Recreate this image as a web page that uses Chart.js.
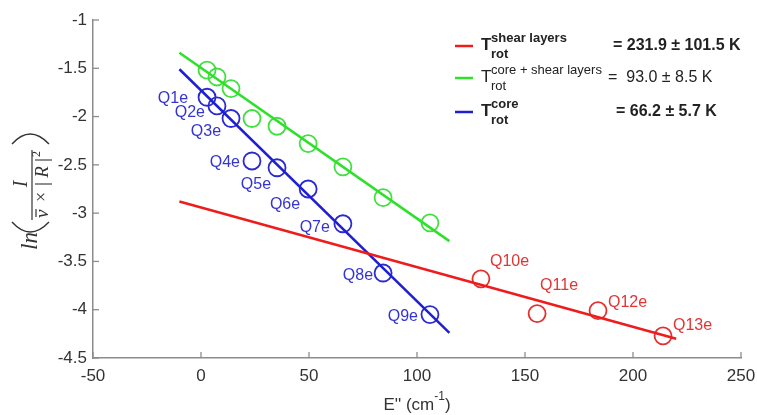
<!DOCTYPE html>
<html>
<head>
<meta charset="utf-8">
<script src="https://cdn.jsdelivr.net/npm/chart.js@4"></script>
<style>
  body { margin: 0; background: #fff; }
  canvas { display: block; }
</style>
</head>
<body>
<canvas id="grafico" width="757" height="415"></canvas>
<script>
// E'' (cm^-1) and ln(I / (nu x |R|^2))
var coreE = [2.8, 7.4, 13.9, 23.6, 35.2, 49.6, 65.7, 84.3, 106.0];
var coreLnI = [-1.80, -1.89, -2.02, -2.46, -2.53, -2.75, -3.11, -3.62, -4.05];
var coreLabels = ['Q1e', 'Q2e', 'Q3e', 'Q4e', 'Q5e', 'Q6e', 'Q7e', 'Q8e', 'Q9e'];

var coreShearE = [2.8, 7.4, 13.9, 23.6, 35.2, 49.6, 65.7, 84.3, 106.0];
var coreShearLnI = [-1.52, -1.59, -1.71, -2.02, -2.10, -2.28, -2.52, -2.84, -3.10];

var shearE = [129.6, 155.6, 183.8, 213.9];
var shearLnI = [-3.68, -4.04, -4.01, -4.27];
var shearLabels = ['Q10e', 'Q11e', 'Q12e', 'Q13e'];

// fitted lines (end points)
var shearFitE = [-10, 220];
var shearFitLnI = [-2.88, -4.30];
var coreShearFitE = [-10, 115];
var coreShearFitLnI = [-1.34, -3.29];
var coreFitE = [-10, 115];
var coreFitLnI = [-1.51, -4.24];

var xTicks = [-50, 0, 50, 100, 150, 200, 250];
var yTicks = [-4.5, -4, -3.5, -3, -2.5, -2, -1.5, -1];

// legend text
var legendSup = ['shear layers', 'core + shear layers', 'core'];
var legendValues = ['= 231.9 \u00b1 101.5 K', '=  93.0 \u00b1 8.5 K', '= 66.2 \u00b1 5.7 K'];

var RED = '#ee1c1c', GREEN = '#2ee02a', BLUE = '#1e1ed2';

function pts(xs, ys) {
  return xs.map(function (x, i) { return { x: x, y: ys[i] }; });
}

// label offsets in pixels from each circle (style only)
var coreLabelOff = [[-19, 1], [-12, 7], [-10, 13], [-12, 2], [-6, 17], [-8, 16], [-13, 4], [-10, 3], [-12, 2]];
var shearLabelOff = [[9, -17], [3, -28], [10, -8], [10, -10]];

var sans = '"Liberation Sans", Arial, Helvetica, sans-serif';
var serif = '"Liberation Serif", "Times New Roman", serif';

var decoraciones = {
  id: 'decoraciones',
  afterDatasetsDraw: function (chart) {
    var ctx = chart.ctx;
    var xs = chart.scales.x, ys = chart.scales.y;
    var area = chart.chartArea;
    ctx.save();

    // inward tick marks
    ctx.strokeStyle = '#8c8c8c';
    ctx.lineWidth = 1.3;
    xTicks.forEach(function (t) {
      var px = xs.getPixelForValue(t);
      ctx.beginPath(); ctx.moveTo(px, area.bottom); ctx.lineTo(px, area.bottom - 6); ctx.stroke();
    });
    yTicks.forEach(function (t) {
      var py = ys.getPixelForValue(t);
      ctx.beginPath(); ctx.moveTo(area.left, py); ctx.lineTo(area.left + 6, py); ctx.stroke();
    });

    // point labels
    ctx.font = '16px ' + sans;
    ctx.textBaseline = 'middle';
    var coreMeta = chart.getDatasetMeta(5);
    ctx.fillStyle = '#3434d4';
    ctx.textAlign = 'right';
    coreLabels.forEach(function (lab, i) {
      var p = coreMeta.data[i];
      ctx.fillText(lab, p.x + coreLabelOff[i][0], p.y + coreLabelOff[i][1]);
    });
    var shearMeta = chart.getDatasetMeta(3);
    ctx.fillStyle = '#e23434';
    ctx.textAlign = 'left';
    shearLabels.forEach(function (lab, i) {
      var p = shearMeta.data[i];
      ctx.fillText(lab, p.x + shearLabelOff[i][0], p.y + shearLabelOff[i][1]);
    });

    // legend
    var rows = [46, 78, 112];
    var cols = [RED, GREEN, BLUE];
    var bold = [true, false, true];
    var valX = [613, 608, 616];
    for (var i = 0; i < 3; i++) {
      var y = rows[i];
      ctx.strokeStyle = cols[i];
      ctx.lineWidth = 2.5;
      ctx.beginPath(); ctx.moveTo(455, y); ctx.lineTo(473, y); ctx.stroke();
      var w = bold[i] ? 'bold ' : '';
      ctx.fillStyle = '#222';
      ctx.textAlign = 'left';
      ctx.textBaseline = 'alphabetic';
      ctx.font = w + '17px ' + sans;
      ctx.fillText('T', 481, y + 4);
      ctx.font = w + '13px ' + sans;
      ctx.fillText(legendSup[i], 491, y - 4);
      ctx.fillText('rot', 491, y + 12);
      ctx.font = w + '16px ' + sans;
      ctx.textBaseline = 'middle';
      ctx.fillText(legendValues[i], valX[i], y);
    }

    // x title: E'' (cm^-1)
    ctx.fillStyle = '#333';
    ctx.textBaseline = 'alphabetic';
    var a = "E'' (cm", b = ')';
    ctx.font = '12px ' + sans;
    var wSup = ctx.measureText('-1').width;
    ctx.font = '17px ' + sans;
    var wa = ctx.measureText(a).width, wb = ctx.measureText(b).width;
    var x0 = (area.left + area.right) / 2 - (wa + wSup + wb) / 2;
    ctx.textAlign = 'left';
    ctx.fillText(a, x0, 410);
    ctx.fillText(b, x0 + wa + wSup, 410);
    ctx.font = '12px ' + sans;
    ctx.fillText('-1', x0 + wa, 400);

    // y title: ln( I / (nu-bar x |R|^2) ), rotated
    ctx.translate(32, 188);
    ctx.rotate(-Math.PI / 2);
    ctx.fillStyle = '#333';
    ctx.strokeStyle = '#333';
    ctx.font = 'italic 23px ' + serif;
    ctx.fillText('ln', -62, 5);
    // parentheses
    ctx.lineWidth = 1.4;
    ctx.beginPath(); ctx.moveTo(-34, -20); ctx.quadraticCurveTo(-54, -2, -34, 17); ctx.stroke();
    ctx.beginPath(); ctx.moveTo(44, -20); ctx.quadraticCurveTo(64, -2, 44, 17); ctx.stroke();
    // fraction bar
    ctx.lineWidth = 1.2;
    ctx.beginPath(); ctx.moveTo(-32, 0); ctx.lineTo(38, 0); ctx.stroke();
    // numerator
    ctx.font = 'italic 20px ' + serif;
    ctx.textAlign = 'center';
    ctx.fillText('I', 4, -5);
    // denominator
    ctx.textAlign = 'left';
    ctx.font = 'italic 19px ' + serif;
    ctx.fillText('\u03bd', -30, 16);
    ctx.beginPath(); ctx.moveTo(-29, 4); ctx.lineTo(-21, 4); ctx.stroke();
    ctx.font = '18px ' + serif;
    ctx.textAlign = 'center';
    ctx.fillText('\u00d7', -9, 15);
    ctx.lineWidth = 1.1;
    ctx.beginPath(); ctx.moveTo(4, 3); ctx.lineTo(4, 20); ctx.stroke();
    ctx.beginPath(); ctx.moveTo(28, 3); ctx.lineTo(28, 20); ctx.stroke();
    ctx.font = 'italic 19px ' + serif;
    ctx.fillText('R', 16, 16);
    ctx.font = '12px ' + serif;
    ctx.textAlign = 'left';
    ctx.fillText('2', 31, 8);

    ctx.restore();
  }
};

var tickFont = { size: 17, family: sans };

var grafico = new Chart(document.getElementById('grafico').getContext('2d'), {
  type: 'scatter',
  data: {
    datasets: [
      { data: pts(shearFitE, shearFitLnI), showLine: true, borderColor: RED, borderWidth: 2.5, pointRadius: 0 },
      { data: pts(coreShearFitE, coreShearFitLnI), showLine: true, borderColor: GREEN, borderWidth: 2.5, pointRadius: 0 },
      { data: pts(coreFitE, coreFitLnI), showLine: true, borderColor: BLUE, borderWidth: 2.5, pointRadius: 0 },
      { data: pts(shearE, shearLnI), pointRadius: 8.5, pointBorderWidth: 1.8, borderColor: '#e53030', backgroundColor: 'rgba(0,0,0,0)' },
      { data: pts(coreShearE, coreShearLnI), pointRadius: 8.5, pointBorderWidth: 1.8, borderColor: '#40e040', backgroundColor: 'rgba(0,0,0,0)' },
      { data: pts(coreE, coreLnI), pointRadius: 8.5, pointBorderWidth: 1.8, borderColor: '#2a2ad2', backgroundColor: 'rgba(0,0,0,0)' }
    ]
  },
  options: {
    responsive: false,
    animation: false,
    layout: { padding: { top: 20, right: 16, left: 0, bottom: 0 } },
    plugins: { legend: { display: false }, tooltip: { enabled: false } },
    scales: {
      x: {
        type: 'linear', min: -50, max: 250,
        ticks: { stepSize: 50, color: '#333', font: tickFont, padding: 8, maxRotation: 0 },
        grid: { display: false, drawTicks: false },
        border: { display: true, color: '#8c8c8c', width: 1.5 },
        afterFit: function (s) { s.height = 57; s.paddingLeft = 0; s.paddingRight = 0; }
      },
      y: {
        min: -4.5, max: -1,
        ticks: { stepSize: 0.5, color: '#333', font: tickFont, padding: 6,
          callback: function (v) { return String(+v.toFixed(2)); } },
        grid: { display: false, drawTicks: false },
        border: { display: true, color: '#8c8c8c', width: 1.5 },
        afterFit: function (s) { s.width = 93; s.paddingTop = 0; s.paddingBottom = 0; }
      }
    }
  },
  plugins: [decoraciones]
});
</script>
</body>
</html>
